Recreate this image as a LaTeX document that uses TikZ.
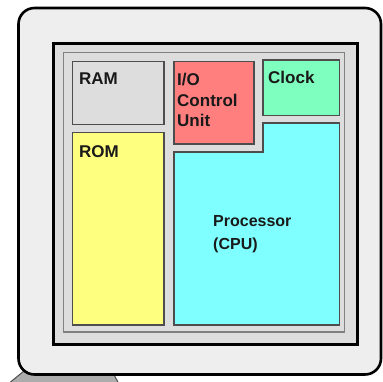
\documentclass[tikz,border=0pt]{standalone}
\usepackage{fontspec}
\setmainfont{Liberation Sans}
\usepackage{tikz}
\definecolor{CaseGrey}{HTML}{EEEEEE}
\definecolor{BoardGrey}{HTML}{DDDDDD}
\definecolor{IoRed}{HTML}{FF7F7F}
\definecolor{ClockGreen}{HTML}{7FFFBF}
\definecolor{CpuCyan}{HTML}{7FFFFF}
\definecolor{RomYellow}{HTML}{FFFF7F}
\definecolor{EdgeGrey}{HTML}{4D4D4D}

\begin{document}
\begin{tikzpicture}[x=1pt,y=-1pt,
  unit/.style={draw=EdgeGrey,line width=1.2pt},
  lbl/.style={anchor=north west,inner sep=0pt,align=left,text=black!90,font=\fontsize{17}{20.5}\selectfont\bfseries}
]
\useasboundingbox (0,0) rectangle (382,382);
% stand under the case
\draw[fill=gray!65,draw=black!70,line width=1pt] (8,384) -- (24,371) -- (112,371) -- (119,384) -- cycle;
% case and board
\draw[fill=CaseGrey,line width=2.6pt,rounded corners=16pt] (18.5,8) rectangle (381,374.5);
\draw[fill=BoardGrey,line width=3.5pt] (53.5,43.5) rectangle (357.5,344.5);
\draw[fill=BoardGrey,draw=gray,line width=1.4pt] (63.5,52.5) rectangle (344.5,332);
% parts
\draw[unit,fill=BoardGrey] (72.5,61.5) rectangle (164,124.5);
\draw[unit,fill=IoRed] (174,61.5) rectangle (254,144);
\draw[unit,fill=ClockGreen] (263,60) rectangle (339.5,115.5);
\draw[unit,fill=RomYellow] (72.5,132.5) rectangle (164,325);
\draw[unit,fill=CpuCyan] (263,123) -- (339.5,123) -- (339.5,325) -- (174,325) -- (174,152) -- (263,152) -- cycle;
% labels
\node[lbl] (ram) at (79,73) {RAM};
\node[lbl] (io) at (177,73) {I/O\\Control\\Unit};
\node[lbl] (clock) at (268,71) {Clock};
\node[lbl] (rom) at (79,145) {ROM};
\node[lbl,font=\fontsize{16}{23.5}\selectfont\bfseries] (cpu) at (213,215) {Processor\\(CPU)};
\end{tikzpicture}
\end{document}
